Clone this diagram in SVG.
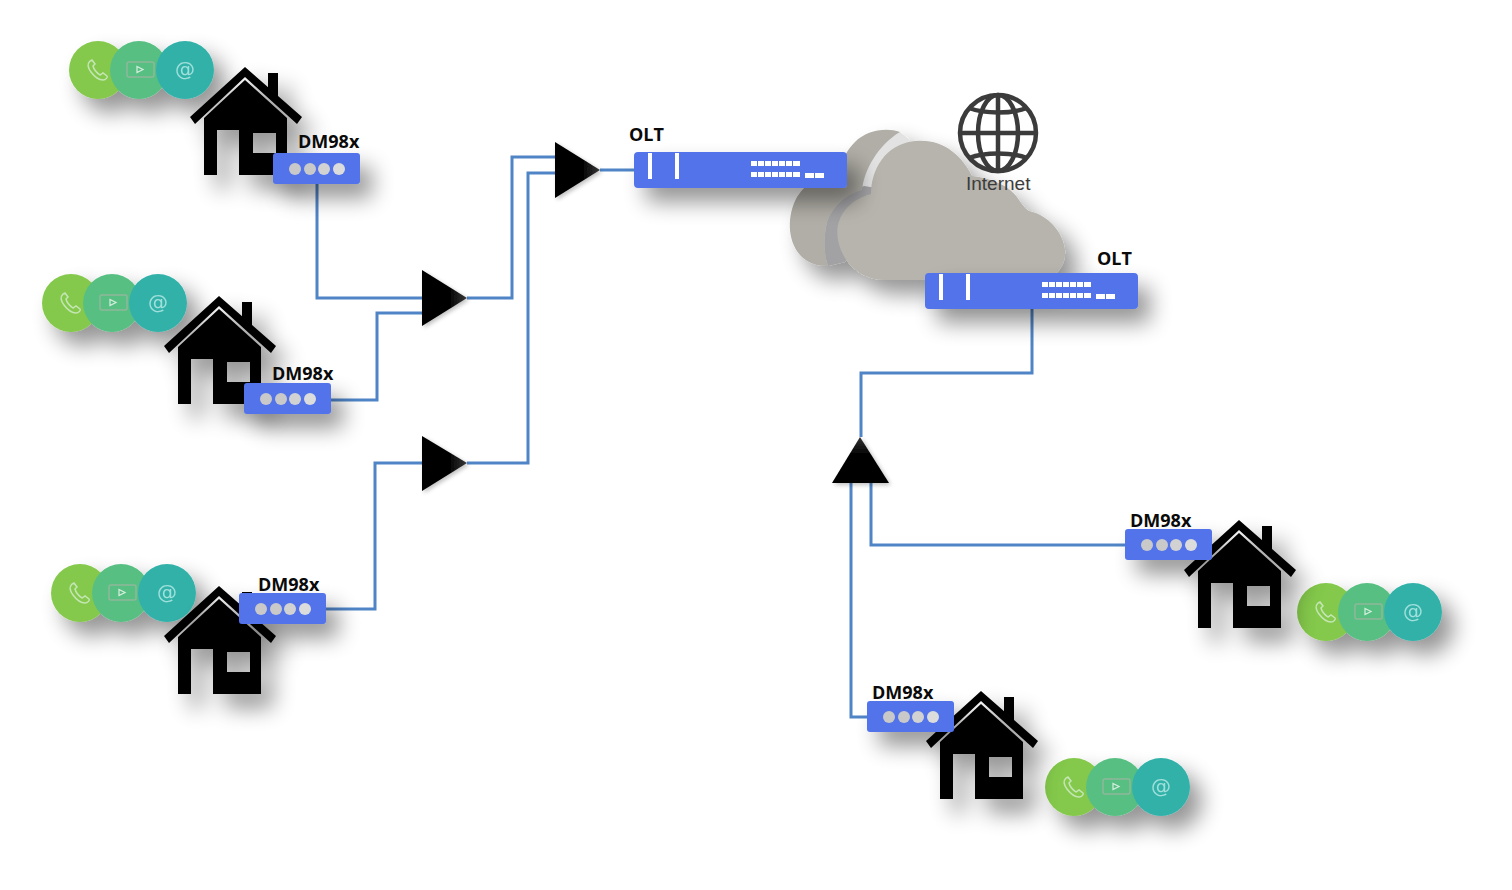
<svg xmlns="http://www.w3.org/2000/svg" width="1512" height="890" viewBox="0 0 1512 890">
<style>
.wire{fill:none;stroke:#4f84c6;stroke-width:3}
.lbl{font-family:"Open Sans","Noto Sans",sans-serif;font-weight:700;font-size:18px;fill:#0a0a0a}
.at{font-family:"DejaVu Sans",sans-serif;font-size:20px;fill:#9fe0da;text-anchor:middle}
.net{font-family:"Liberation Sans",sans-serif;font-size:19px;fill:#3c3c3c}
.ic{fill:none;stroke:#c4e6b4;stroke-width:1.5}
.blue{fill:#5373ea}
.wh{fill:#fff}
.glb{fill:none;stroke:#3b3b3b;stroke-width:4.500}
</style>
<defs>
<filter id="sh" filterUnits="userSpaceOnUse" x="0" y="0" width="1512" height="890"><feGaussianBlur in="SourceGraphic" stdDeviation="0.7" result="s"/><feGaussianBlur in="SourceAlpha" stdDeviation="11"/><feOffset dx="12" dy="14"/><feComponentTransfer><feFuncA type="linear" slope="0.42"/></feComponentTransfer><feMerge><feMergeNode/><feMergeNode in="s"/></feMerge></filter>
<filter id="shs" filterUnits="userSpaceOnUse" x="0" y="0" width="1512" height="890"><feGaussianBlur in="SourceGraphic" stdDeviation="0.7" result="s"/><feGaussianBlur in="SourceAlpha" stdDeviation="2"/><feOffset dx="2" dy="2"/><feComponentTransfer><feFuncA type="linear" slope="0.25"/></feComponentTransfer><feMerge><feMergeNode/><feMergeNode in="s"/></feMerge></filter>
<linearGradient id="tri" x1="0" y1="0" x2="1" y2="0"><stop offset="0.6" stop-color="#000"/><stop offset="1" stop-color="#3a3a3a"/></linearGradient>
<linearGradient id="triu" x1="0" y1="1" x2="0" y2="0"><stop offset="0.6" stop-color="#000"/><stop offset="1" stop-color="#333"/></linearGradient>
<g id="house"><path d="M268 73h10v24l-10-9z"/><path d="M190 117 245 67 302 117 297 124 245 77 195 124z"/><path fill-rule="evenodd" d="M204 118 245 80 287 118V175H239V130H217V175H204zM253 133V153H276V133z"/></g>
<g id="trio"><circle cx="98" cy="70" r="29" fill="#84c94c"/><circle cx="139" cy="70" r="29" fill="#58bf83"/><circle cx="185" cy="70" r="29" fill="#32b1a9"/>
<path class="ic" d="M90 61c-3 3-2 7 1 11s7 8 12 8c3 0 5-3 4-4l-4-3-3 2c-3-2-6-5-7-9l2-2-3-4z"/>
<rect x="127" y="62" width="27" height="15" rx="2" fill="none" stroke="#8fb89a" stroke-width="1.500"/><path d="M137 66.500l6 3-6 3z" fill="none" stroke="#d8efe0" stroke-width="1.200"/><text class="at" x="185" y="76">@</text></g>
<g id="dev"><rect width="87" height="31" rx="3" class="blue"/><circle cx="22" cy="16" r="6" fill="#c9c9c9"/><circle cx="37" cy="16" r="6" fill="#c9c9c9"/><circle cx="51" cy="16" r="6" fill="#d2d2d2"/><circle cx="66" cy="16" r="6" fill="#dcdcdc"/></g>
<g id="olt"><rect width="213" height="36" rx="4" class="blue"/><rect x="14" y="1" width="4" height="26" class="wh"/><rect x="41" y="1" width="4" height="26" class="wh"/><g class="wh"><rect x="117" y="9" width="49" height="5"/><rect x="117" y="20" width="49" height="5"/><rect x="171" y="21" width="9" height="5"/><rect x="181" y="21" width="9" height="5"/></g><g fill="#5373ea"><rect x="123" y="9" width="1" height="16"/><rect x="130" y="9" width="1" height="16"/><rect x="137" y="9" width="1" height="16"/><rect x="144" y="9" width="1" height="16"/><rect x="151" y="9" width="1" height="16"/><rect x="158" y="9" width="1" height="16"/></g></g>
</defs>
<rect width="1512" height="890" fill="#fff"/>
<g id="connectors" class="wires">
<path class="wire" d="M317 184V298H422"/>
<path class="wire" d="M331 400H377V313H422"/>
<path class="wire" d="M326 609H375V463H422"/>
<path class="wire" d="M467 298H512V157H555"/>
<path class="wire" d="M467 463H528V173H555"/>
<path class="wire" d="M600 170H634"/>
<path class="wire" d="M1032 308V373H861V437"/>
<path class="wire" d="M1125 545H871V483"/>
<path class="wire" d="M867 717H851V483"/>
</g>
<g id="trio1" filter="url(#sh)"><use href="#trio"/></g>
<g id="trio2" filter="url(#sh)"><use href="#trio" x="-27" y="233"/></g>
<g id="trio3" filter="url(#sh)"><use href="#trio" x="-18" y="523"/></g>
<g id="trio4" filter="url(#sh)"><use href="#trio" x="1228" y="542"/></g>
<g id="trio5" filter="url(#sh)"><use href="#trio" x="976" y="717"/></g>
<g id="house1" filter="url(#sh)"><use href="#house"/></g>
<g id="house2" filter="url(#sh)"><use href="#house" x="-26" y="229"/></g>
<g id="house3" filter="url(#sh)"><use href="#house" x="-26" y="519"/></g>
<g id="house4" filter="url(#sh)"><use href="#house" x="994" y="453"/></g>
<g id="house5" filter="url(#sh)"><use href="#house" x="736" y="624"/></g>
<g id="splitter1" filter="url(#shs)"><path d="M422 270V326L467 298z" fill="url(#tri)"/></g>
<g id="splitter2" filter="url(#shs)"><path d="M422 436V491L467 463z" fill="url(#tri)"/></g>
<g id="splitter3" filter="url(#shs)"><path d="M555 142V198L600 170z" fill="url(#tri)"/></g>
<g id="splitter4" filter="url(#shs)"><path d="M860 437L889 483H832z" fill="url(#triu)"/></g>
<g id="cloud" filter="url(#sh)">
<path fill="#e2e2e2" d="M900 132C878 145 864 170 862 190L880 195 910 140z"/>
<path fill="#a2a2a5" d="M864 186C848 194 833 204 827 222C823 240 824 255 828 266L845 262 890 190z"/>
<path fill="#b0aea6" d="M900 132C885 127 866 131 855 142C847 150 843 158 842 166C825 172 808 180 797 197C787 215 787 240 800 255C807 263 817 266 828 266C823 250 824 235 827 222C833 204 848 194 862 190C864 170 878 145 900 132z"/>
<path fill="#b6b4ac" d="M871 194C871 170 885 144 915 141C942 138 962 155 972 176C990 178 1010 185 1019 200C1024 207 1026 209 1029 211C1048 215 1063 232 1065 250C1066 262 1060 272 1052 276L1040 280H885C860 280 842 262 838 240C834 218 848 200 871 194z"/>
</g>
<g id="globe"><circle cx="998" cy="133" r="38" class="glb"/><ellipse cx="998" cy="133" rx="20" ry="38" class="glb"/><path class="glb" d="M998 95V171M960 133H1036"/><path class="glb" d="M969 108C985 114 1011 114 1027 108M969 158C985 152 1011 152 1027 158"/><text class="net" x="966" y="190">Internet</text></g>
<g id="olt1"><g filter="url(#sh)"><use href="#olt" x="634" y="152"/></g><text class="lbl" x="629" y="141">OLT</text></g>
<g id="olt2"><g filter="url(#sh)"><use href="#olt" x="925" y="273"/></g><text class="lbl" x="1097" y="265">OLT</text></g>
<g id="dm1"><g filter="url(#sh)"><use href="#dev" x="273" y="153"/></g><text class="lbl" x="298" y="148">DM98x</text></g>
<g id="dm2"><g filter="url(#sh)"><use href="#dev" x="244" y="383"/></g><text class="lbl" x="272" y="380">DM98x</text></g>
<g id="dm3"><g filter="url(#sh)"><use href="#dev" x="239" y="593"/></g><text class="lbl" x="258" y="591">DM98x</text></g>
<g id="dm4"><g filter="url(#sh)"><use href="#dev" x="1125" y="529"/></g><text class="lbl" x="1130" y="527">DM98x</text></g>
<g id="dm5"><g filter="url(#sh)"><use href="#dev" x="867" y="701"/></g><text class="lbl" x="872" y="699">DM98x</text></g>
</svg>
